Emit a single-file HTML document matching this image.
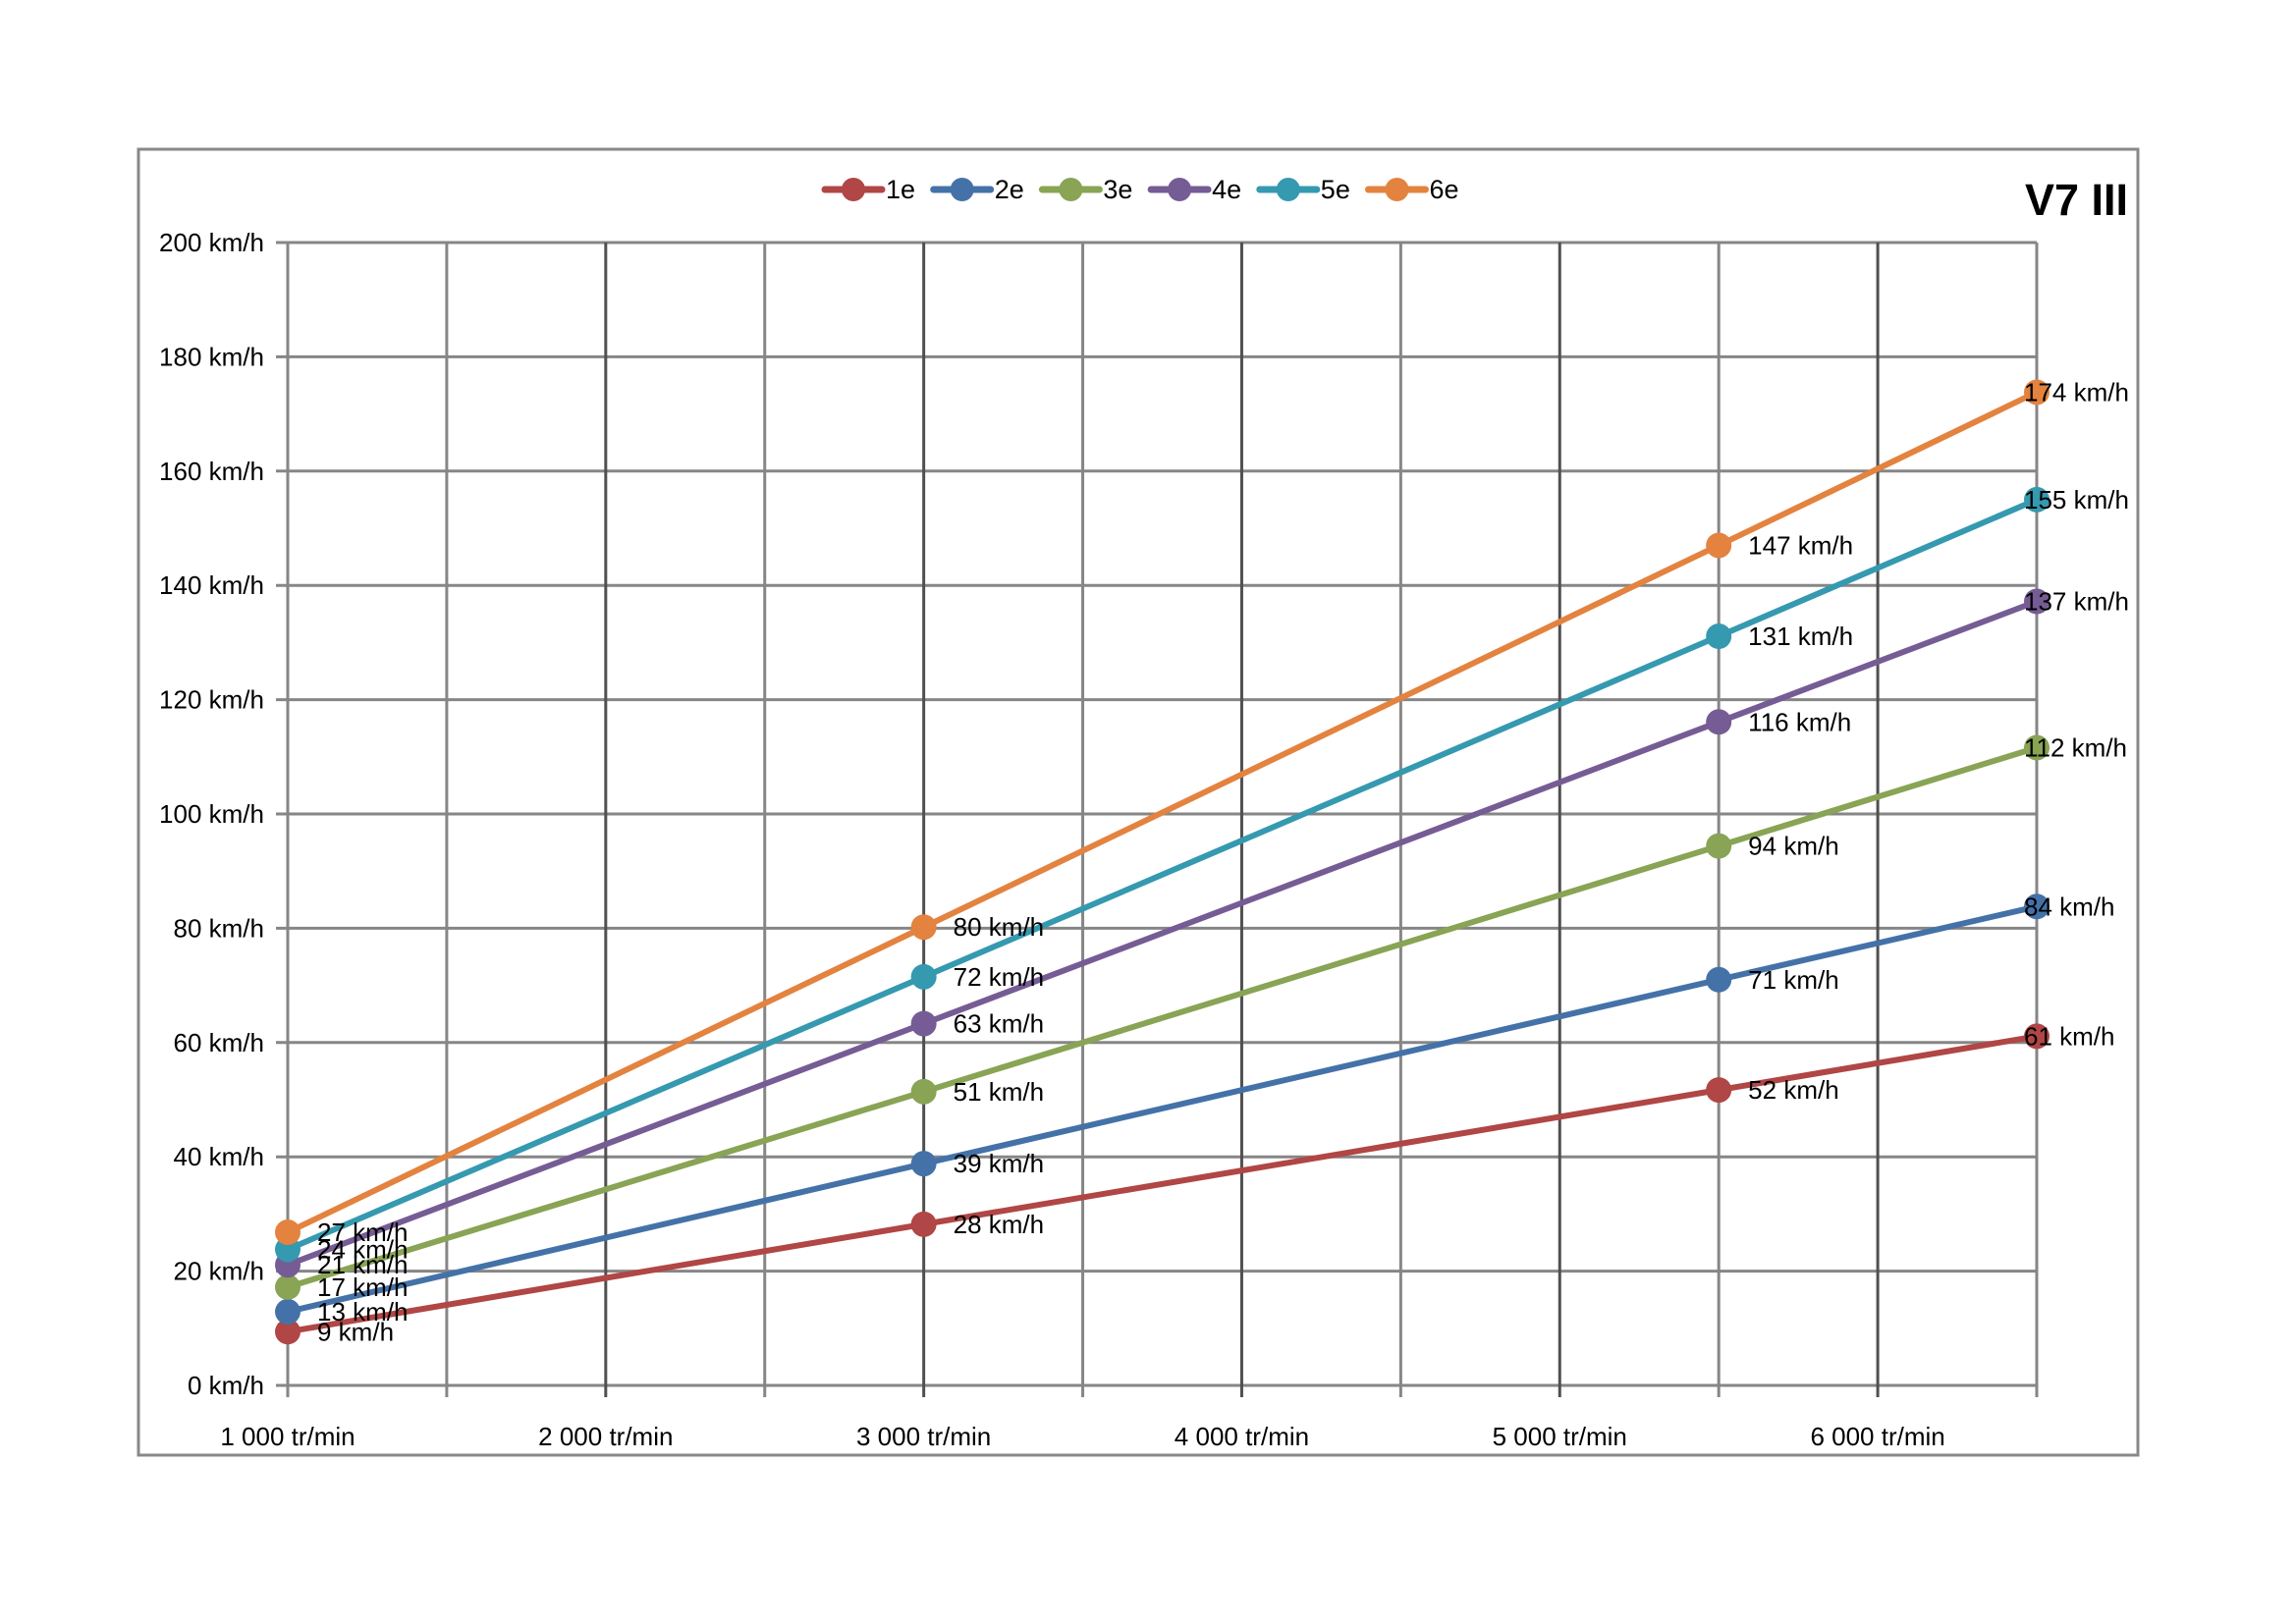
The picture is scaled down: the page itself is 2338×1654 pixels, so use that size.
<!DOCTYPE html>
<html><head><meta charset="utf-8"><style>
html,body{margin:0;padding:0;background:#fff}
svg{display:block}
text{font-family:"Liberation Sans",sans-serif;fill:#000}
</style></head><body>
<svg id="chart" width="2338" height="1654" viewBox="0 0 2338 1654" xmlns="http://www.w3.org/2000/svg">
<rect x="141" y="152" width="2036" height="1330" fill="#fff" stroke="#888" stroke-width="3"/>
<g id="grid"></g>
<g id="axes"></g>
<g id="series"></g>
<g id="legend"></g>
<text x="2167" y="219" text-anchor="end" font-size="45" font-weight="bold">V7 III</text>
</svg>
<script>
const rpm = [1000, 3000, 5500, 6500];
const seriesNames = ["1e","2e","3e","4e","5e","6e"];
const s1 = [9.4, 28.2, 51.7, 61.1];
const s2 = [12.9, 38.8, 71.0, 83.8];
const s3 = [17.2, 51.4, 94.4, 111.6];
const s4 = [21.1, 63.3, 116.1, 137.2];
const s5 = [23.8, 71.5, 131.1, 155.0];
const s6 = [26.8, 80.2, 147.0, 173.8];
const colors = ["#b04645","#4472a8","#88a454","#765c94","#3599b0","#e3833f"];
const yTicks = [0,20,40,60,80,100,120,140,160,180,200];
const xTicks = [1000,2000,3000,4000,5000,6000];
const values = [s1,s2,s3,s4,s5,s6];

const NS="http://www.w3.org/2000/svg";
const L=293,R=2074,T=247,B=1411;
const xMin=1000,xMax=6500,yMax=200;
const X=v=>L+(v-xMin)/(xMax-xMin)*(R-L);
const Y=v=>B-v/yMax*(B-T);
function mk(tag,attrs,parent,txt){const e=document.createElementNS(NS,tag);for(const k in attrs)e.setAttribute(k,attrs[k]);if(txt!==undefined)e.textContent=txt;parent.appendChild(e);return e;}
const grid=document.getElementById('grid'),axes=document.getElementById('axes'),ser=document.getElementById('series'),leg=document.getElementById('legend');

yTicks.forEach(v=>{
  const l=mk('line',{x1:L-12,x2:R,y1:Y(v),y2:Y(v),stroke:'#868686','stroke-width':3},grid);
  
  
  const t=mk('text',{x:269,y:Y(v)+9,'text-anchor':'end','font-size':26},axes,v+' km/h');
  
  
});
for(let v=xMin; v<=xMax; v+=500){
  const major=v%1000===0 && v!==xMin;
  const l=mk('line',{x1:X(v),x2:X(v),y1:T,y2:B+12,stroke:major?'#505050':'#868686','stroke-width':3},grid);
  
  
}
xTicks.forEach(v=>{
  const t=mk('text',{x:X(v),y:1472,'text-anchor':'middle','font-size':26},axes,(v/1000)+' 000 tr/min');
  
  
});

values.forEach((vals,si)=>{
  const g=mk('g',{},ser);
  
  
  const pts=vals.map((v,i)=>X(rpm[i])+','+Y(v)).join(' ');
  const pl=mk('polyline',{points:pts,fill:'none',stroke:colors[si],'stroke-width':6,'stroke-linejoin':'round'},g);
  
  
  vals.forEach((v,i)=>{
    const c=mk('circle',{cx:X(rpm[i]),cy:Y(v),r:13,fill:colors[si]},g);
    
    
  });
});
values.forEach((vals,si)=>{
  vals.forEach((v,i)=>{
    const last=i===vals.length-1;
    const t=mk('text',{x:X(rpm[i])+(last?-13:30),y:Y(v)+9,'font-size':26},ser,Math.round(v)+' km/h');
    
    
  });
});

seriesNames.forEach((n,i)=>{
  const x0=840+i*110.7,y=193;
  const g=mk('g',{},leg);
  
  
  mk('line',{x1:x0,x2:x0+58,y1:y,y2:y,stroke:colors[i],'stroke-width':7,'stroke-linecap':'round'},g);
  mk('circle',{cx:x0+29,cy:y,r:12,fill:colors[i]},g);
  mk('text',{x:x0+62,y:y+9,'font-size':27},g,n);
});
</script>
</body></html>
